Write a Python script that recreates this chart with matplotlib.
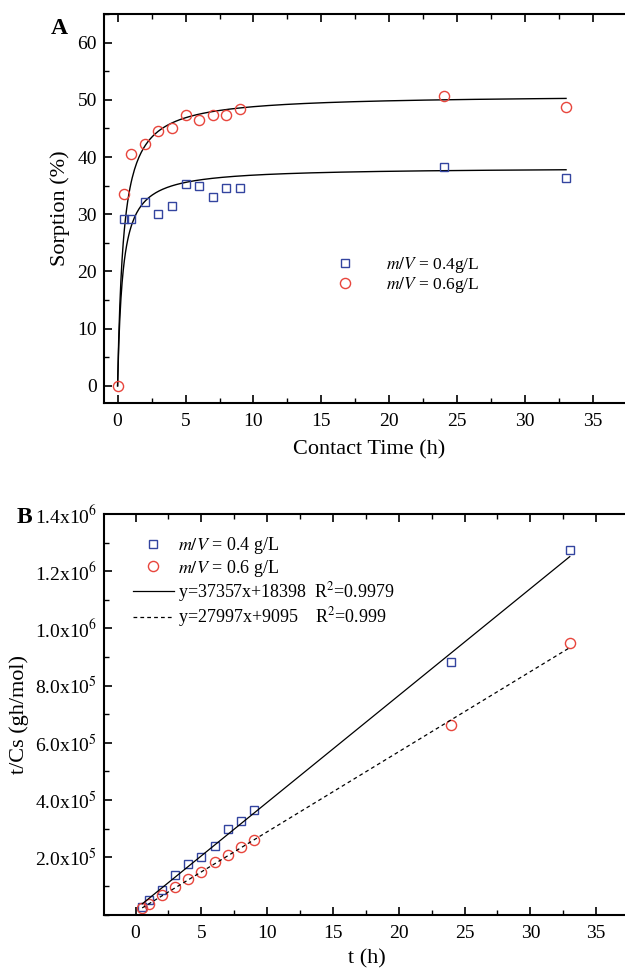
import matplotlib
matplotlib.use("Agg")
import matplotlib.pyplot as plt
import numpy as np
from matplotlib.ticker import MultipleLocator, FixedLocator, FixedFormatter

plt.rcParams['font.family'] = ['Liberation Serif', 'DejaVu Serif']
plt.rcParams['mathtext.fontset'] = 'stix'

# --- данные панели A (сорбция от времени контакта) ---
t_blue = [0.5, 1, 2, 3, 4, 5, 6, 7, 8, 9, 24, 33]
sorp_blue = [29.1, 29.1, 32.1, 30.1, 31.5, 35.3, 34.9, 33.0, 34.5, 34.5, 38.3, 36.4]
t_red = [0, 0.5, 1, 2, 3, 4, 5, 6, 7, 8, 9, 24, 33]
sorp_red = [0, 33.5, 40.6, 42.2, 44.5, 45.0, 47.4, 46.5, 47.4, 47.4, 48.4, 50.7, 48.8]
# параметры кинетики псевдо-второго порядка: q = qe*t/(b + t)
qe_blue, b_blue = 38.2, 0.37
qe_red, b_red = 50.9, 0.43

# --- данные панели B (t/Cs от t) ---
t_b = [0.5, 1, 2, 3, 4, 5, 6, 7, 8, 9, 24, 33]
tcs_blue = [2.5e4, 5.0e4, 8.7e4, 1.39e5, 1.78e5, 2.0e5, 2.41e5, 3.0e5, 3.26e5, 3.67e5, 8.82e5, 1.275e6]
tcs_red = [2.2e4, 3.6e4, 6.7e4, 9.5e4, 1.25e5, 1.49e5, 1.82e5, 2.09e5, 2.36e5, 2.62e5, 6.64e5, 9.5e5]
slope_blue, icpt_blue = 37357, 18398
slope_red, icpt_red = 27997, 9095
b_yticks = [2e5, 4e5, 6e5, 8e5, 1.0e6, 1.2e6, 1.4e6]
b_yticklabels = [r"2.0x10$^5$", r"4.0x10$^5$", r"6.0x10$^5$", r"8.0x10$^5$",
                 r"1.0x10$^6$", r"1.2x10$^6$", r"1.4x10$^6$"]

blue = '#33449f'
red = '#e8453c'

fig = plt.figure(figsize=(6.25, 9.73), dpi=100)

def style_axes(ax):
    ax.spines['right'].set_visible(False)
    for s in ['left', 'bottom', 'top']:
        ax.spines[s].set_linewidth(1.5)
    ax.tick_params(which='both', direction='in', top=True, right=False, labelsize=14)
    ax.tick_params(which='major', length=6, width=1.2)
    ax.tick_params(which='minor', length=3.5, width=1.0)
    ax.tick_params(axis='x', pad=7.5)
    ax.tick_params(axis='y', pad=5)

# ---------- панель A ----------
axA = fig.add_axes([0.1664, 0.5858, 0.848, 0.3998])
style_axes(axA)
tt = np.linspace(0, 33, 400)
axA.plot(tt, qe_blue * tt / (b_blue + tt), color='black', lw=1.0)
axA.plot(tt, qe_red * tt / (b_red + tt), color='black', lw=1.0)
axA.plot(t_blue, sorp_blue, 's', mfc='none', mec=blue, ms=6.3, mew=1.0,
         label=r"$m/V$ = 0.4g/L")
axA.plot(t_red, sorp_red, 'o', mfc='none', mec=red, ms=7.3, mew=1.0,
         label=r"$m/V$ = 0.6g/L")
axA.set_xlim(-1, 38)
axA.set_ylim(-3, 65)
axA.xaxis.set_major_locator(MultipleLocator(5))
axA.xaxis.set_minor_locator(MultipleLocator(2.5))
axA.yaxis.set_major_locator(FixedLocator([0, 10, 20, 30, 40, 50, 60]))
axA.yaxis.set_minor_locator(MultipleLocator(5))
axA.set_xlabel('Contact Time (h)', fontsize=16, labelpad=7)
axA.set_ylabel('Sorption (%)', fontsize=16, labelpad=5)
axA.legend(loc='upper left', bbox_to_anchor=(0.532, 0.738), bbox_transform=fig.transFigure,
           frameon=False, fontsize=12.5, handlelength=1.4, handletextpad=1.7,
           labelspacing=0.0, borderpad=0, borderaxespad=0)
fig.text(0.082, 0.971, 'A', fontsize=17, fontweight='bold', va='center')

# ---------- панель B ----------
axB = fig.add_axes([0.1664, 0.0601, 0.84, 0.4116])
style_axes(axB)
tl = np.array([t_b[0], t_b[-1]])
axB.plot(t_b, tcs_blue, 's', mfc='none', mec=blue, ms=6.3, mew=1.0,
         label=r"$m/V$ = 0.4 g/L")
axB.plot(t_b, tcs_red, 'o', mfc='none', mec=red, ms=7.3, mew=1.0,
         label=r"$m/V$ = 0.6 g/L")
axB.plot(tl, slope_blue * tl + icpt_blue, '-', color='black', lw=0.9,
         label=r"y=37357x+18398  R$^2$=0.9979")
axB.plot(tl, slope_red * tl + icpt_red, '--', color='black', lw=0.9, dashes=(3, 2.5),
         label=r"y=27997x+9095    R$^2$=0.999")
axB.set_xlim(-2.4, 37.5)
axB.set_ylim(0, 1.4e6)
axB.xaxis.set_major_locator(MultipleLocator(5))
axB.xaxis.set_minor_locator(MultipleLocator(2.5))
axB.yaxis.set_major_locator(FixedLocator(b_yticks))
axB.yaxis.set_major_formatter(FixedFormatter(b_yticklabels))
axB.yaxis.set_minor_locator(MultipleLocator(1e5))
axB.set_xlabel('t (h)', fontsize=16, labelpad=5)
axB.set_ylabel('t/Cs (gh/mol)', fontsize=16, labelpad=4)
axB.legend(loc='upper left', bbox_to_anchor=(0.212, 0.450), bbox_transform=fig.transFigure,
           frameon=False, fontsize=13, handlelength=2.3, handletextpad=0.2,
           labelspacing=0.08, borderpad=0, borderaxespad=0)
fig.text(0.027, 0.468, 'B', fontsize=17, fontweight='bold', va='center')

fig.savefig('out.png', dpi=100)
